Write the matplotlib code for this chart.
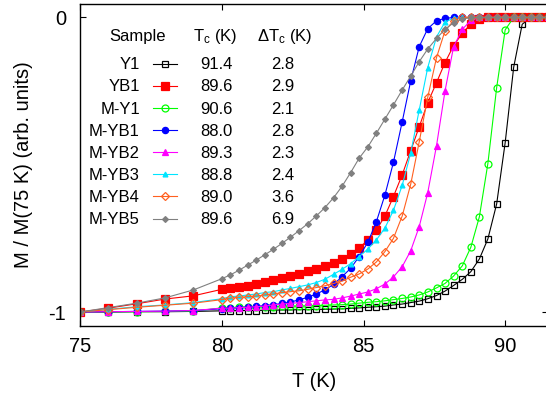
import matplotlib
matplotlib.use("Agg")
import matplotlib.pyplot as plt

plt.rcParams['font.family'] = ['Liberation Sans', 'DejaVu Sans']
plt.rcParams['mathtext.fontset'] = 'custom'
plt.rcParams['mathtext.rm'] = 'Liberation Sans'
plt.rcParams['mathtext.it'] = 'Liberation Sans:italic'

# temperature grid (K)
temps = [75, 76, 77, 78, 79,
         80.00, 80.30, 80.61, 80.91, 81.21, 81.51, 81.82, 82.12, 82.42, 82.72,
         83.03, 83.33, 83.63, 83.94, 84.24, 84.54, 84.84, 85.15, 85.45, 85.75,
         86.05, 86.36, 86.66, 86.96, 87.26, 87.57, 87.87, 88.17, 88.48, 88.78,
         89.08, 89.38, 89.69, 89.99, 90.29, 90.59, 90.90, 91.20, 91.50]

y_Y1 = [-1.000, -1.000, -0.999, -0.999, -0.998,
        -0.996, -0.996, -0.995, -0.995, -0.995, -0.994, -0.994, -0.993, -0.993, -0.992,
        -0.992, -0.991, -0.991, -0.990, -0.989, -0.988, -0.986, -0.984, -0.982, -0.980,
        -0.976, -0.973, -0.968, -0.963, -0.955, -0.944, -0.929, -0.910, -0.889, -0.863,
        -0.820, -0.752, -0.633, -0.425, -0.169, -0.023, 0.0, 0.0, 0.0]
y_YB1 = [-1.000, -0.987, -0.972, -0.956, -0.945,
         -0.923, -0.920, -0.914, -0.911, -0.905, -0.898, -0.891, -0.886, -0.878, -0.870,
         -0.862, -0.853, -0.843, -0.832, -0.819, -0.803, -0.782, -0.756, -0.722, -0.674,
         -0.608, -0.534, -0.452, -0.371, -0.289, -0.221, -0.153, -0.096, -0.053, -0.022,
         -0.005, 0.0, 0.0, 0.0, 0.0, 0.0, 0.0, 0.0, 0.0]
y_MY1 = [-1.000, -1.000, -0.999, -0.998, -0.997,
         -0.986, -0.985, -0.984, -0.984, -0.983, -0.982, -0.982, -0.981, -0.980, -0.980,
         -0.979, -0.978, -0.977, -0.976, -0.975, -0.973, -0.970, -0.967, -0.965, -0.962,
         -0.958, -0.954, -0.949, -0.942, -0.932, -0.918, -0.903, -0.878, -0.843, -0.780,
         -0.677, -0.496, -0.238, -0.042, 0.0, 0.0, 0.0, 0.0, 0.0]
y_MYB1 = [-1.000, -0.999, -0.998, -0.997, -0.995,
          -0.989, -0.987, -0.985, -0.983, -0.981, -0.978, -0.975, -0.971, -0.966, -0.959,
          -0.950, -0.939, -0.925, -0.906, -0.880, -0.852, -0.812, -0.763, -0.693, -0.603,
          -0.492, -0.354, -0.215, -0.099, -0.038, -0.011, -0.003, 0.0, 0.0, 0.0,
          0.0, 0.0, 0.0, 0.0, 0.0, 0.0, 0.0, 0.0, 0.0]
y_MYB2 = [-1.000, -0.999, -0.998, -0.997, -0.995,
          -0.987, -0.987, -0.985, -0.984, -0.982, -0.980, -0.976, -0.973, -0.971, -0.968,
          -0.965, -0.962, -0.959, -0.957, -0.952, -0.946, -0.939, -0.932, -0.921, -0.905,
          -0.881, -0.846, -0.792, -0.710, -0.595, -0.435, -0.249, -0.100, -0.040, -0.010,
          0.0, 0.0, 0.0, 0.0, 0.0, 0.0, 0.0, 0.0, 0.0]
y_MYB3 = [-1.000, -0.991, -0.982, -0.976, -0.968,
          -0.955, -0.948, -0.946, -0.942, -0.939, -0.934, -0.931, -0.925, -0.920, -0.914,
          -0.908, -0.900, -0.889, -0.872, -0.855, -0.836, -0.812, -0.786, -0.755, -0.715,
          -0.655, -0.570, -0.460, -0.314, -0.170, -0.066, -0.015, -0.003, 0.0, 0.0,
          0.0, 0.0, 0.0, 0.0, 0.0, 0.0, 0.0, 0.0, 0.0]
y_MYB4 = [-1.000, -0.992, -0.984, -0.977, -0.970,
          -0.958, -0.953, -0.950, -0.948, -0.946, -0.942, -0.939, -0.934, -0.931, -0.928,
          -0.923, -0.917, -0.911, -0.903, -0.895, -0.882, -0.871, -0.854, -0.830, -0.795,
          -0.750, -0.674, -0.566, -0.422, -0.271, -0.136, -0.045, -0.011, 0.0, 0.0,
          0.0, 0.0, 0.0, 0.0, 0.0, 0.0, 0.0, 0.0, 0.0]
y_MYB5 = [-1.000, -0.985, -0.970, -0.952, -0.925,
          -0.887, -0.874, -0.858, -0.841, -0.824, -0.806, -0.787, -0.767, -0.746, -0.724,
          -0.700, -0.674, -0.646, -0.612, -0.573, -0.527, -0.478, -0.439, -0.393, -0.345,
          -0.297, -0.246, -0.199, -0.150, -0.107, -0.071, -0.040, -0.018, -0.005, 0.0,
          0.0, 0.0, 0.0, 0.0, 0.0, 0.0, 0.0, 0.0, 0.0]

samples = ['Y1', 'YB1', 'M-Y1', 'M-YB1', 'M-YB2', 'M-YB3', 'M-YB4', 'M-YB5']
tc = ['91.4', '89.6', '90.6', '88.0', '89.3', '88.8', '89.0', '89.6']
dtc = ['2.8', '2.9', '2.1', '2.8', '2.3', '2.4', '3.6', '6.9']
curves = [y_Y1, y_YB1, y_MY1, y_MYB1, y_MYB2, y_MYB3, y_MYB4, y_MYB5]

# style per sample: color, marker, size, filled
styles = [
    ('black', 's', 4.5, False),
    ('#ff0000', 's', 5.5, True),
    ('#00ff00', 'o', 5.0, False),
    ('#0000ff', 'o', 4.5, True),
    ('#ff00ff', '^', 5.0, True),
    ('#00e5ff', '^', 3.5, True),
    ('#ff6020', 'D', 4.0, False),
    ('#808080', 'D', 3.0, True),
]

W, H = 546, 396
fig = plt.figure(figsize=(W / 100, H / 100), dpi=100)
ax = fig.add_axes([80 / W, 1 - 325.7 / H, 468 / W, 322.2 / H])

for y, (c, m, ms, filled) in zip(curves, styles):
    ax.plot(temps, y, color=c, lw=0.8, marker=m, ms=ms, mew=0.9,
            mfc=c if filled else 'none', mec=c)

ax.set_xlim(75, 91.5)
ax.set_ylim(-1.0465, 0.0475)
ax.set_xticks([75, 80, 85, 90])
ax.set_yticks([-1, 0])
ax.set_yticklabels(['-1', '0'])
ax.tick_params(direction='in', length=4, width=0.8, top=True, right=True,
               labelsize=14.5)
ax.tick_params(axis='y', pad=10)
ax.tick_params(axis='x', pad=8)
for s in ax.spines.values():
    s.set_linewidth(1.0)

ax.set_xlabel('T (K)', fontsize=14.5, labelpad=12)
ax.set_ylabel('M / M(75 K) (arb. units)', fontsize=14.5, labelpad=11)

# table-style key
def fx(px):
    return px / W

def fy(py):
    return 1 - py / H

fs = 12
fig.text(fx(138), fy(41), 'Sample', fontsize=fs, ha='center', va='baseline')
fig.text(fx(215), fy(41), 'T$_\\mathrm{c}$ (K)', fontsize=fs, ha='center', va='baseline')
fig.text(fx(285), fy(41), '\u0394T$_\\mathrm{c}$ (K)', fontsize=fs, ha='center', va='baseline')

for i, (name, t, d, (c, m, ms, filled)) in enumerate(zip(samples, tc, dtc, styles)):
    base = 69.3 + 22.1 * i
    fig.text(fx(140), fy(base), name, fontsize=fs, ha='right', va='baseline')
    fig.text(fx(216), fy(base), t, fontsize=fs, ha='center', va='baseline')
    fig.text(fx(283), fy(base), d, fontsize=fs, ha='center', va='baseline')
    yl = fy(base - 5.5)
    fig.add_artist(plt.Line2D([fx(153), fx(177)], [yl, yl], color=c, lw=0.8))
    fig.add_artist(plt.Line2D([fx(165)], [yl], color=c, marker=m, ms=ms, mew=0.9,
                              mfc=c if filled else 'none', mec=c))

fig.savefig('out.png', dpi=100)
